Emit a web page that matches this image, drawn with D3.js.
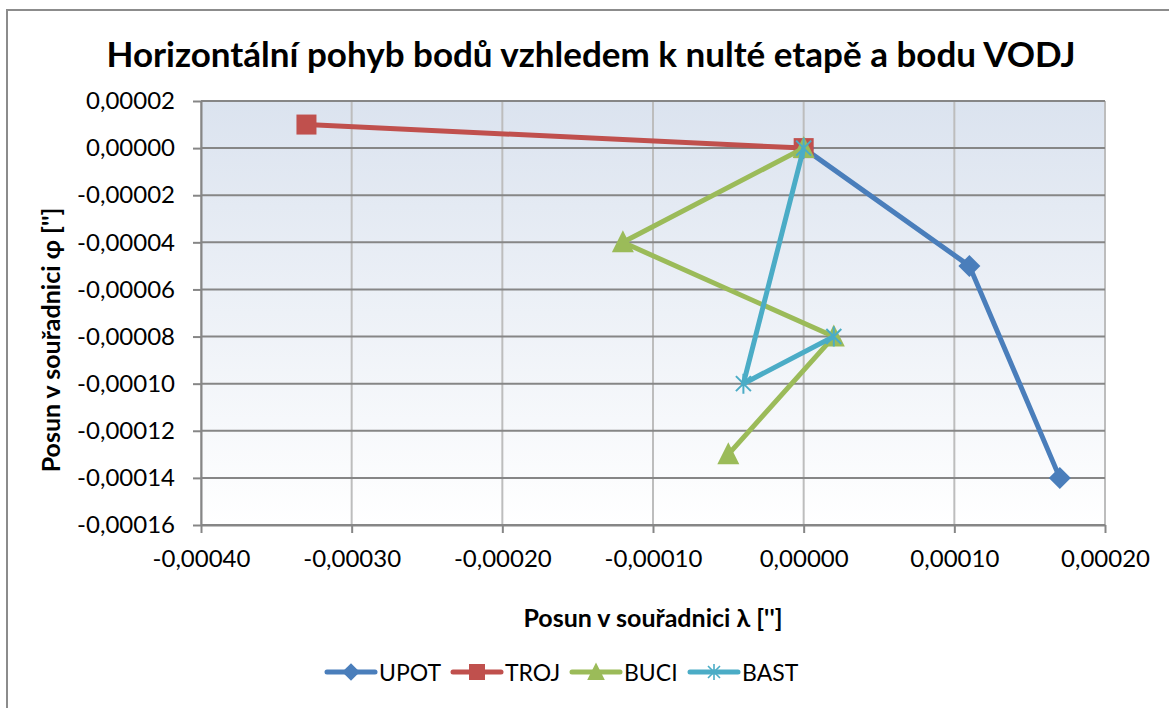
<!DOCTYPE html>
<html lang="cs">
<head>
	<meta charset="utf-8">
	<title>Horizontální pohyb bodů</title>
	<script src="https://d3js.org/d3.v7.min.js"></script>
	<style>
		body { margin: 0; background: #fff; }
		text { font-family: Lato, "Open Sans", sans-serif; fill: #000; }
	</style>
</head>
<body>
<div id="chart"></div>
<script>
	// data
	var seriesNames = ["UPOT", "TROJ", "BUCI", "BAST"];
	var upotLambda = [0, 0.00011, 0.00017];
	var upotPhi = [0, -0.00005, -0.00014];
	var trojLambda = [-0.00033, 0];
	var trojPhi = [0.00001, 0];
	var buciLambda = [0, -0.00012, 0.00002, -0.00005];
	var buciPhi = [0, -0.00004, -0.00008, -0.00013];
	var bastLambda = [0, -0.00004, 0.00002];
	var bastPhi = [0, -0.0001, -0.00008];
	var xTicks = [-0.0004, -0.0003, -0.0002, -0.0001, 0, 0.0001, 0.0002];
	var yTicks = [0.00002, 0, -0.00002, -0.00004, -0.00006, -0.00008, -0.0001, -0.00012, -0.00014, -0.00016];

	var colors = ["#4a7ebb", "#c0504d", "#9bbb59", "#4bacc6"];
	var markers = ["diamond", "square", "triangle", "star"];

	function zip(xs, ys) {
		return xs.map(function(x, i) { return { x: x, y: ys[i] }; });
	}
	var series = [
		zip(upotLambda, upotPhi),
		zip(trojLambda, trojPhi),
		zip(buciLambda, buciPhi),
		zip(bastLambda, bastPhi)
	];

	var w = 1169, h = 708;
	var plot = { left: 201, top: 101, right: 1105, bottom: 525 };

	var svg = d3.select("#chart").append("svg")
		.attr("width", w)
		.attr("height", h);

	// chart frame
	svg.append("rect")
		.attr("x", 7).attr("y", 10)
		.attr("width", w + 20).attr("height", h + 20)
		.attr("fill", "#fff")
		.attr("stroke", "#8c8c8c")
		.attr("stroke-width", 2);

	var xScale = d3.scaleLinear().domain([-0.0004, 0.0002]).range([plot.left, plot.right]);
	var yScale = d3.scaleLinear().domain([-0.00016, 0.00002]).range([plot.bottom, plot.top]);

	function fmt(v) {
		var s = d3.format(".5f")(Math.abs(v) < 1e-12 ? 0 : v).replace(".", ",");
		return s.replace("−", "-");
	}

	// plot background gradient
	var grad = svg.append("defs").append("linearGradient")
		.attr("id", "bg").attr("x1", 0).attr("y1", 0).attr("x2", 0).attr("y2", 1);
	grad.append("stop").attr("offset", "0%").attr("stop-color", "#dbe3ef");
	grad.append("stop").attr("offset", "100%").attr("stop-color", "#ffffff");

	svg.append("rect")
		.attr("x", plot.left).attr("y", plot.top)
		.attr("width", plot.right - plot.left)
		.attr("height", plot.bottom - plot.top)
		.attr("fill", "url(#bg)");

	// vertical gridlines
	svg.append("g")
		.selectAll("line")
		.data(xTicks)
		.enter().append("line")
		.attr("x1", function(d) { return xScale(d); })
		.attr("x2", function(d) { return xScale(d); })
		.attr("y1", plot.top).attr("y2", plot.bottom)
		.attr("stroke", "#bdbdbd")
		.attr("stroke-width", 2);

	// horizontal gridlines
	svg.append("g")
		.selectAll("line")
		.data(yTicks)
		.enter().append("line")
		.attr("x1", plot.left).attr("x2", plot.right)
		.attr("y1", function(d) { return yScale(d); })
		.attr("y2", function(d) { return yScale(d); })
		.attr("stroke", "#868686")
		.attr("stroke-width", 2);

	// axes
	var xAxis = svg.append("g")
		.attr("transform", "translate(0," + plot.bottom + ")")
		.call(d3.axisBottom(xScale).tickValues(xTicks).tickFormat(fmt).tickSizeInner(8).tickSizeOuter(0).tickPadding(17));
	var yAxis = svg.append("g")
		.attr("transform", "translate(" + plot.left + ",0)")
		.call(d3.axisLeft(yScale).tickValues(yTicks).tickFormat(fmt).tickSizeInner(8).tickSizeOuter(0).tickPadding(18));

	[xAxis, yAxis].forEach(function(a) {
		a.select(".domain").attr("stroke", "#868686").attr("stroke-width", 2);
		a.selectAll(".tick line").attr("stroke", "#868686").attr("stroke-width", 2);
		a.selectAll(".tick text")
			.attr("font-family", "Lato, 'Open Sans', sans-serif")
			.attr("font-size", 24)
			.attr("fill", "#000");
	});

	// markers
	function drawMarker(g, type, color, s) {
		s = s || 1;
		if (type === "diamond") {
			g.append("path").attr("d", "M0,-11L11,0L0,11L-11,0Z").attr("fill", color)
				.attr("transform", "scale(" + s + ")");
		} else if (type === "square") {
			g.append("rect").attr("x", -10).attr("y", -10).attr("width", 20).attr("height", 20).attr("fill", color)
				.attr("transform", "scale(" + s + ")");
		} else if (type === "triangle") {
			g.append("path").attr("d", "M0,-12L11,10L-11,10Z").attr("fill", color)
				.attr("transform", "scale(" + s + ")");
		} else if (type === "star") {
			g.append("path")
				.attr("d", "M0,-10L0,10M-7.5,-7.5L7.5,7.5M-7.5,7.5L7.5,-7.5")
				.attr("stroke", color).attr("stroke-width", 2).attr("fill", "none")
				.attr("transform", "scale(" + s + ")");
		}
	}

	var line = d3.line()
		.x(function(d) { return xScale(d.x); })
		.y(function(d) { return yScale(d.y); });

	series.forEach(function(data, i) {
		var g = svg.append("g");
		g.append("path")
			.datum(data)
			.attr("d", line)
			.attr("fill", "none")
			.attr("stroke", colors[i])
			.attr("stroke-width", 5)
			.attr("stroke-linejoin", "round");
		g.selectAll("g.m")
			.data(data)
			.enter().append("g")
			.attr("class", "m")
			.attr("transform", function(d) { return "translate(" + xScale(d.x) + "," + yScale(d.y) + ")"; })
			.each(function() { drawMarker(d3.select(this), markers[i], colors[i]); });
	});

	// title
	svg.append("text")
		.attr("x", 591).attr("y", 67)
		.attr("text-anchor", "middle")
		.attr("font-size", 35)
		.attr("font-weight", "bold")
		.text("Horizontální pohyb bodů vzhledem k nulté etapě a bodu VODJ");

	// axis titles
	svg.append("text")
		.attr("x", (plot.left + plot.right) / 2).attr("y", 627)
		.attr("text-anchor", "middle")
		.attr("font-size", 25)
		.attr("font-weight", "bold")
		.text("Posun v souřadnici λ ['']");

	svg.append("text")
		.attr("transform", "translate(60,340) rotate(-90)")
		.attr("text-anchor", "middle")
		.attr("font-size", 25)
		.attr("font-weight", "bold")
		.text("Posun v souřadnici φ ['']");

	// legend
	var legendX = [327, 453, 572, 690];
	var legend = svg.append("g")
		.selectAll("g")
		.data(seriesNames)
		.enter().append("g")
		.attr("transform", function(d, i) { return "translate(" + legendX[i] + ",672)"; });
	legend.append("line")
		.attr("x1", 0).attr("x2", 48)
		.attr("stroke", function(d, i) { return colors[i]; })
		.attr("stroke-width", 5)
		.attr("stroke-linecap", "round");
	legend.append("g")
		.attr("transform", "translate(24,0)")
		.each(function(d, i) { drawMarker(d3.select(this), markers[i], colors[i], 0.8); });
	legend.append("text")
		.attr("x", 52).attr("y", 9)
		.attr("font-size", 23)
		.text(function(d) { return d; });
</script>
</body>
</html>
